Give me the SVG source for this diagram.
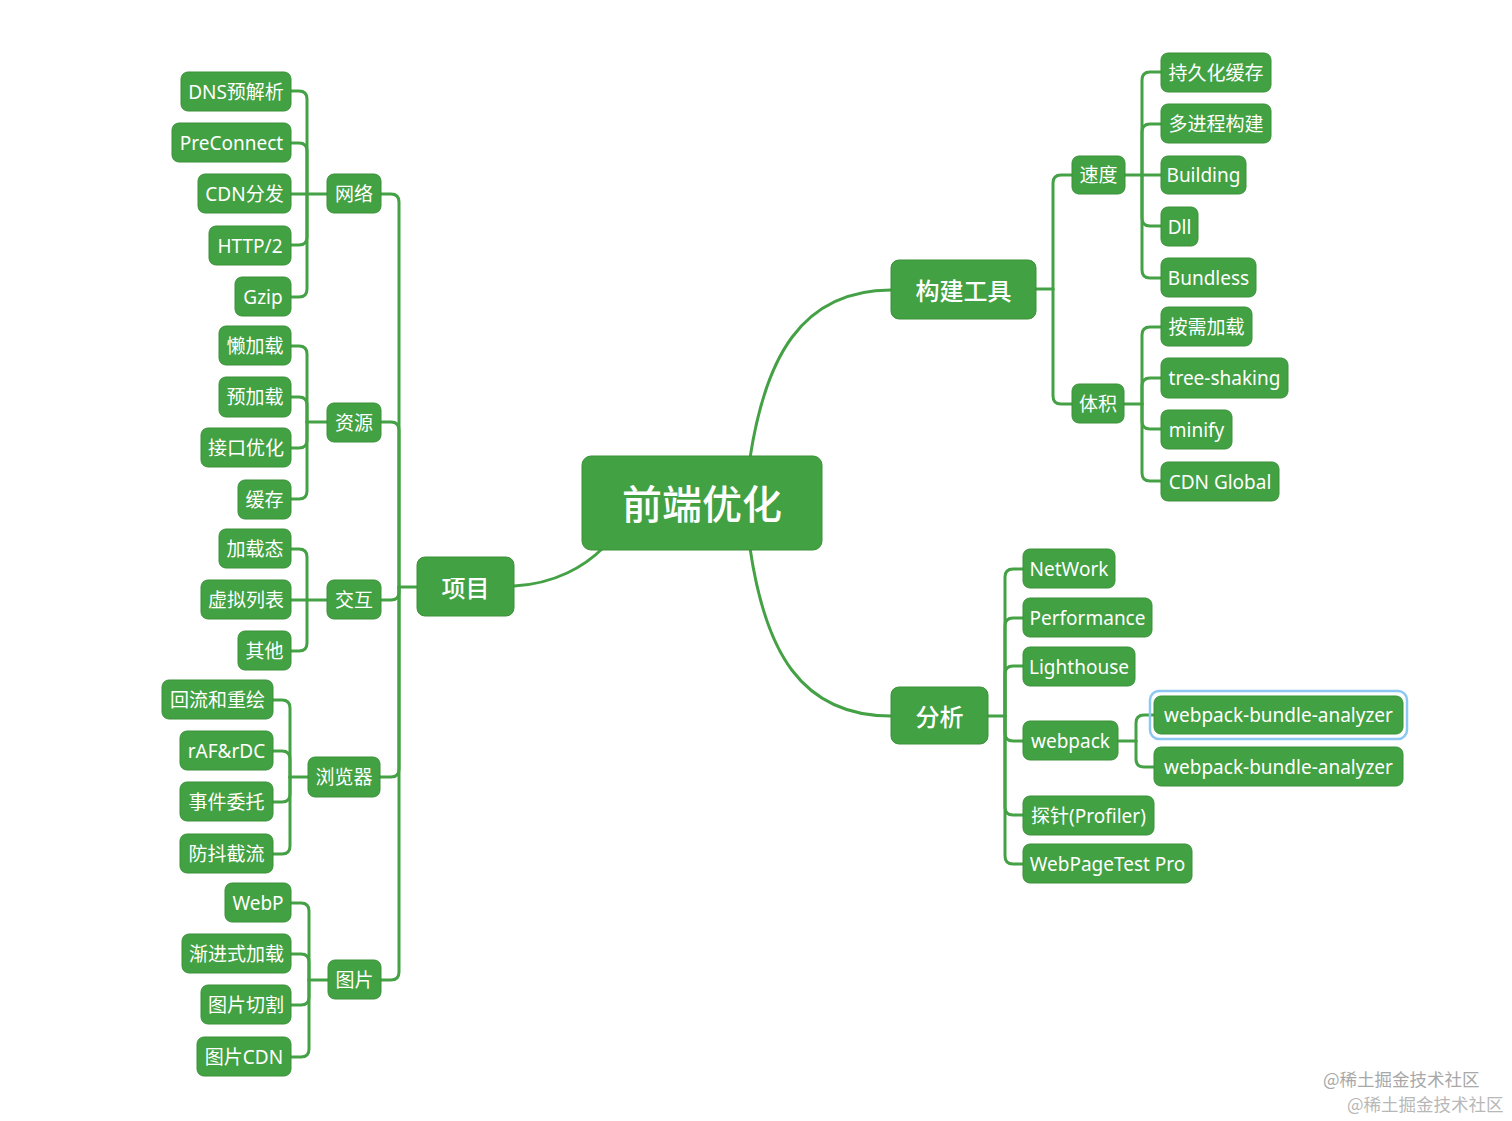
<svg xmlns="http://www.w3.org/2000/svg" width="1512" height="1121" viewBox="0 0 1512 1121">
<style>
.n rect{fill:#42a142;stroke:#3a9139;stroke-width:1}
.n text{fill:#fff;font-family:"Noto Sans","Noto Sans CJK SC",sans-serif;font-size:19px;text-anchor:middle;dominant-baseline:central}
.n.l2 text{font-size:19px}
.n.l1 text{font-size:24px;font-weight:500}
.n.root text{font-size:40px;font-weight:500}
.c path{fill:none;stroke:#45a145;stroke-width:3;stroke-linecap:round}
.wm{font-family:"Noto Sans CJK SC",sans-serif;font-size:17.5px}
</style>
<rect width="1512" height="1121" fill="#fff"/>
<g id="connectors" class="c">
<path d="M514,586 C555,584 585,566 603,548"/>
<path d="M750,458 C765,360 800,290 891,290"/>
<path d="M750,548 C765,650 800,716 891,716"/>
<path d="M381,194 H391 Q399,194 399,202 V587"/>
<path d="M381,422 H391 Q399,422 399,430 V587"/>
<path d="M381,600 H391 Q399,600 399,592 V587"/>
<path d="M380,777 H391 Q399,777 399,769 V587"/>
<path d="M381,980 H391 Q399,980 399,972 V587"/>
<path d="M399,587 H417"/>
<path d="M291,91 H299 Q307,91 307,99 V194"/>
<path d="M291,143 H299 Q307,143 307,151 V194"/>
<path d="M291,194 H327"/>
<path d="M291,245 H299 Q307,245 307,237 V194"/>
<path d="M291,297 H299 Q307,297 307,289 V194"/>
<path d="M291,346 H299 Q307,346 307,354 V422"/>
<path d="M291,397 H299 Q307,397 307,405 V422"/>
<path d="M291,448 H299 Q307,448 307,440 V422"/>
<path d="M291,499 H299 Q307,499 307,491 V422"/>
<path d="M307,422 H327"/>
<path d="M291,549 H299 Q307,549 307,557 V600"/>
<path d="M291,600 H327"/>
<path d="M291,651 H299 Q307,651 307,643 V600"/>
<path d="M273,700 H282 Q290,700 290,708 V777"/>
<path d="M273,751 H282 Q290,751 290,759 V777"/>
<path d="M273,802 H282 Q290,802 290,794 V777"/>
<path d="M273,854 H282 Q290,854 290,846 V777"/>
<path d="M290,777 H308"/>
<path d="M291,903 H301 Q309,903 309,911 V980"/>
<path d="M291,954 H301 Q309,954 309,962 V980"/>
<path d="M291,1005 H301 Q309,1005 309,997 V980"/>
<path d="M291,1057 H301 Q309,1057 309,1049 V980"/>
<path d="M309,980 H328"/>
<path d="M1072,175 H1061 Q1053,175 1053,183 V289"/>
<path d="M1072,404 H1061 Q1053,404 1053,396 V289"/>
<path d="M1036,289 H1053"/>
<path d="M1161,72 H1150 Q1142,72 1142,80 V175"/>
<path d="M1161,124 H1150 Q1142,124 1142,132 V175"/>
<path d="M1125,175 H1161"/>
<path d="M1161,226 H1150 Q1142,226 1142,218 V175"/>
<path d="M1161,278 H1150 Q1142,278 1142,270 V175"/>
<path d="M1161,327 H1150 Q1142,327 1142,335 V404"/>
<path d="M1161,378 H1150 Q1142,378 1142,386 V404"/>
<path d="M1161,429 H1150 Q1142,429 1142,421 V404"/>
<path d="M1161,481 H1150 Q1142,481 1142,473 V404"/>
<path d="M1124,404 H1142"/>
<path d="M1023,569 H1013 Q1005,569 1005,577 V716"/>
<path d="M1023,618 H1013 Q1005,618 1005,626 V716"/>
<path d="M1023,666 H1013 Q1005,666 1005,674 V716"/>
<path d="M1023,741 H1013 Q1005,741 1005,733 V716"/>
<path d="M1023,815 H1013 Q1005,815 1005,807 V716"/>
<path d="M1023,864 H1013 Q1005,864 1005,856 V716"/>
<path d="M988,716 H1005"/>
<path d="M1154,715 H1144 Q1136,715 1136,723 V741"/>
<path d="M1154,767 H1144 Q1136,767 1136,759 V741"/>
<path d="M1118,741 H1136"/>
</g>

<g id="root" class="n root"><rect x="582" y="456" width="240" height="94" rx="9"/><text x="702" y="503">前端优化</text></g>

<g id="xiangmu" class="n l1"><rect x="417" y="557" width="97" height="59" rx="8"/><text x="465.5" y="587">项目</text></g>
<g id="goujian" class="n l1"><rect x="891" y="260" width="145" height="59" rx="8"/><text x="963.5" y="290">构建工具</text></g>
<g id="fenxi" class="n l1"><rect x="891" y="687" width="97" height="57" rx="8"/><text x="939.5" y="716">分析</text></g>

<g id="wangluo" class="n l2"><rect x="327" y="174" width="54" height="39" rx="7"/><text x="354" y="194">网络</text></g>
<g id="ziyuan" class="n l2"><rect x="327" y="403" width="54" height="39" rx="7"/><text x="354" y="423">资源</text></g>
<g id="jiaohu" class="n l2"><rect x="327" y="580" width="54" height="39" rx="7"/><text x="354" y="600">交互</text></g>
<g id="liulanqi" class="n l2"><rect x="308" y="757" width="72" height="40" rx="7"/><text x="344" y="777">浏览器</text></g>
<g id="tupian" class="n l2"><rect x="328" y="960" width="53" height="39" rx="7"/><text x="354.5" y="980">图片</text></g>

<g id="dns" class="n"><rect x="181" y="72" width="110" height="39" rx="7"/><text x="236" y="92">DNS预解析</text></g>
<g id="preconnect" class="n"><rect x="172" y="123" width="119" height="39" rx="7"/><text x="231.5" y="143">PreConnect</text></g>
<g id="cdnff" class="n"><rect x="198" y="174" width="93" height="39" rx="7"/><text x="244.5" y="194">CDN分发</text></g>
<g id="http2" class="n"><rect x="209" y="226" width="82" height="39" rx="7"/><text x="250" y="246">HTTP/2</text></g>
<g id="gzip" class="n"><rect x="235" y="277" width="56" height="39" rx="7"/><text x="263" y="297">Gzip</text></g>

<g id="lanjiazai" class="n"><rect x="219" y="326" width="72" height="39" rx="7"/><text x="255" y="346">懒加载</text></g>
<g id="yujiazai" class="n"><rect x="219" y="377" width="72" height="40" rx="7"/><text x="255" y="397">预加载</text></g>
<g id="jiekou" class="n"><rect x="201" y="428" width="90" height="39" rx="7"/><text x="246" y="448">接口优化</text></g>
<g id="huancun" class="n"><rect x="238" y="480" width="53" height="39" rx="7"/><text x="264.5" y="500">缓存</text></g>

<g id="jiazaitai" class="n"><rect x="219" y="529" width="72" height="39" rx="7"/><text x="255" y="549">加载态</text></g>
<g id="xuni" class="n"><rect x="201" y="580" width="90" height="39" rx="7"/><text x="246" y="600">虚拟列表</text></g>
<g id="qita" class="n"><rect x="238" y="631" width="53" height="39" rx="7"/><text x="264.5" y="651">其他</text></g>

<g id="huiliu" class="n"><rect x="162" y="680" width="111" height="39" rx="7"/><text x="217.5" y="700">回流和重绘</text></g>
<g id="raf" class="n"><rect x="180" y="731" width="93" height="39" rx="7"/><text x="226.5" y="751">rAF&amp;rDC</text></g>
<g id="shijian" class="n"><rect x="180" y="782" width="93" height="39" rx="7"/><text x="226.5" y="802">事件委托</text></g>
<g id="fangdou" class="n"><rect x="180" y="834" width="93" height="39" rx="7"/><text x="226.5" y="854">防抖截流</text></g>

<g id="webp" class="n"><rect x="225" y="883" width="66" height="39" rx="7"/><text x="258" y="903">WebP</text></g>
<g id="jianjin" class="n"><rect x="182" y="934" width="109" height="39" rx="7"/><text x="236.5" y="954">渐进式加载</text></g>
<g id="qiege" class="n"><rect x="201" y="985" width="90" height="39" rx="7"/><text x="246" y="1005">图片切割</text></g>
<g id="tupiancdn" class="n"><rect x="197" y="1037" width="94" height="39" rx="7"/><text x="244" y="1057">图片CDN</text></g>

<g id="sudu" class="n l2"><rect x="1072" y="156" width="53" height="38" rx="7"/><text x="1098.5" y="175">速度</text></g>
<g id="tiji" class="n l2"><rect x="1072" y="384" width="52" height="39" rx="7"/><text x="1098" y="404">体积</text></g>

<g id="chijiu" class="n"><rect x="1161" y="53" width="110" height="39" rx="7"/><text x="1216" y="73">持久化缓存</text></g>
<g id="duojincheng" class="n"><rect x="1161" y="104" width="110" height="39" rx="7"/><text x="1216" y="124">多进程构建</text></g>
<g id="building" class="n"><rect x="1161" y="156" width="85" height="38" rx="7"/><text x="1203.5" y="175">Building</text></g>
<g id="dll" class="n"><rect x="1161" y="207" width="37" height="39" rx="7"/><text x="1179.5" y="227">Dll</text></g>
<g id="bundless" class="n"><rect x="1161" y="258" width="95" height="39" rx="7"/><text x="1208.5" y="278">Bundless</text></g>

<g id="anxu" class="n"><rect x="1161" y="307" width="91" height="39" rx="7"/><text x="1206.5" y="327">按需加载</text></g>
<g id="treeshaking" class="n"><rect x="1161" y="358" width="127" height="40" rx="7"/><text x="1224.5" y="378">tree-shaking</text></g>
<g id="minify" class="n"><rect x="1161" y="410" width="71" height="39" rx="7"/><text x="1196.5" y="430">minify</text></g>
<g id="cdnglobal" class="n"><rect x="1161" y="462" width="118" height="39" rx="7"/><text x="1220" y="482">CDN Global</text></g>

<g id="network" class="n"><rect x="1023" y="549" width="92" height="39" rx="7"/><text x="1069" y="569">NetWork</text></g>
<g id="performance" class="n"><rect x="1023" y="598" width="129" height="39" rx="7"/><text x="1087.5" y="618">Performance</text></g>
<g id="lighthouse" class="n"><rect x="1023" y="647" width="112" height="39" rx="7"/><text x="1079" y="667">Lighthouse</text></g>
<g id="webpack" class="n"><rect x="1023" y="721" width="95" height="39" rx="7"/><text x="1070.5" y="741">webpack</text></g>
<g id="profiler" class="n"><rect x="1023" y="796" width="131" height="39" rx="7"/><text x="1088.5" y="816">探针(Profiler)</text></g>
<g id="wpt" class="n"><rect x="1023" y="844" width="169" height="39" rx="7"/><text x="1107.5" y="864">WebPageTest Pro</text></g>

<g id="wba1" class="n"><rect x="1150" y="691" width="257" height="48" rx="9" style="fill:none;stroke:#8cc8f2;stroke-width:2.5"/><rect x="1154" y="696" width="249" height="38" rx="7"/><text x="1278.5" y="715">webpack-bundle-analyzer</text></g>
<g id="wba2" class="n"><rect x="1154" y="747" width="249" height="39" rx="7"/><text x="1278.5" y="767">webpack-bundle-analyzer</text></g>

<g id="watermark">
<text class="wm" x="1323" y="1086" fill="#a8a8a8">@稀土掘金技术社区</text>
<text class="wm" x="1347" y="1111" fill="#b8b8b8">@稀土掘金技术社区</text>
</g>
</svg>
